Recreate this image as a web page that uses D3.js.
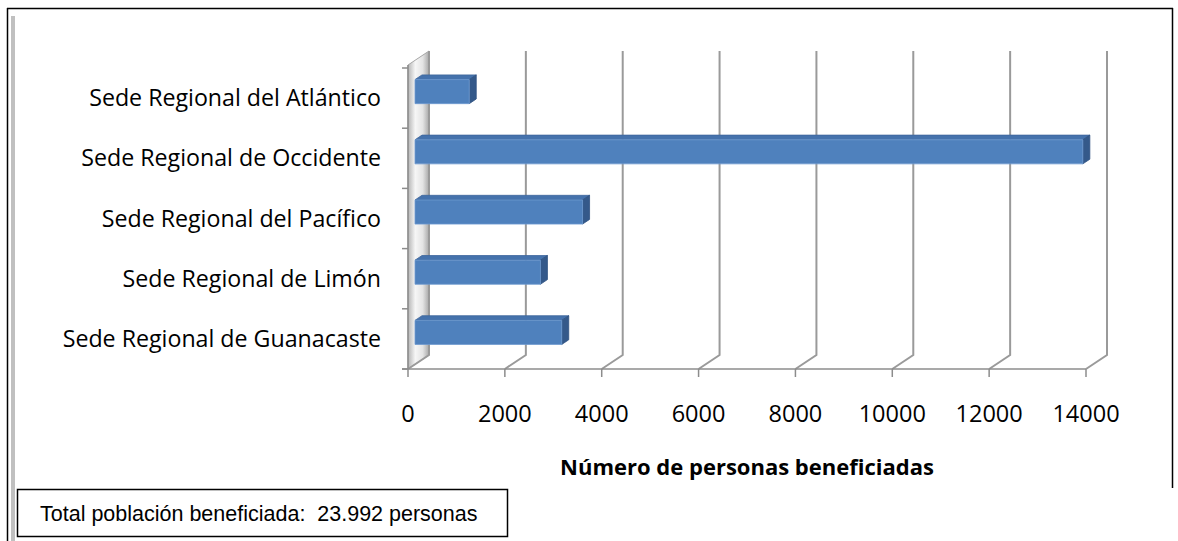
<!DOCTYPE html>
<html>
<head>
<meta charset="utf-8">
<script src="https://cdn.jsdelivr.net/npm/d3@7"></script>
<style>
  html, body { margin: 0; padding: 0; background: #fff; }
  svg { display: block; }
</style>
</head>
<body>
<svg id="chart" width="1178" height="541"></svg>
<script>
// ---- data ----
const categories = [
  "Sede Regional del Atlántico",
  "Sede Regional de Occidente",
  "Sede Regional del Pacífico",
  "Sede Regional de Limón",
  "Sede Regional de Guanacaste"
];
const values = [1120, 13790, 3460, 2590, 3030];
const tickValues = [0, 2000, 4000, 6000, 8000, 10000, 12000, 14000];
const axisTitle = "Número de personas beneficiadas";
const totalNote = "Total población beneficiada:  23.992 personas";

// ---- layout ----
const svg = d3.select("#chart");
const W = 1178, H = 541;
const DX = 21, DY = -14;          // depth vector of the 3D box
const plotTop = 65, plotBottom = 369;

const x = d3.scaleLinear().domain([0, 14000]).range([408, 1086]);
const y = d3.scaleBand().domain(categories).range([68, 369]);

const P = (xv, yv, d) => [xv + d * DX, yv + d * DY];

// outer frame
svg.append("line").attr("x1", 7).attr("x2", 1173).attr("y1", 8.5).attr("y2", 8.5)
  .attr("stroke", "#000").attr("stroke-width", 1.5);
svg.append("line").attr("x1", 7.5).attr("x2", 7.5).attr("y1", 8).attr("y2", H)
  .attr("stroke", "#000").attr("stroke-width", 1.5);
svg.append("line").attr("x1", 1172.5).attr("x2", 1172.5).attr("y1", 8).attr("y2", 488)
  .attr("stroke", "#000").attr("stroke-width", 1.5);
svg.append("rect").attr("x", 11).attr("y", 16).attr("width", 4).attr("height", H - 16)
  .attr("fill", "#c0c0c0");

// gradient for the side wall
const defs = svg.append("defs");
const g = defs.append("linearGradient").attr("id", "wallGrad")
  .attr("x1", "0").attr("x2", "1").attr("y1", "0").attr("y2", "0");
g.append("stop").attr("offset", "0%").attr("stop-color", "#b4b4b4");
g.append("stop").attr("offset", "35%").attr("stop-color", "#f6f6f6");
g.append("stop").attr("offset", "70%").attr("stop-color", "#e4e4e4");
g.append("stop").attr("offset", "100%").attr("stop-color", "#a8a8a8");

// left side wall (parallelogram)
const x0 = x(0);
const wallPts = [P(x0, plotTop, 0), P(x0, plotTop, 1), P(x0, plotBottom, 1), P(x0, plotBottom, 0)];
svg.append("polygon").attr("points", wallPts.map(p => p.join(",")).join(" "))
  .attr("fill", "url(#wallGrad)").attr("stroke", "#a6a6a6").attr("stroke-width", 1);

// gridlines on back wall + floor diagonals
const grid = svg.append("g").attr("fill", "none").attr("stroke", "#9a9a9a").attr("stroke-width", 2);
tickValues.forEach(t => {
  const a = P(x(t), plotTop, 1), b = P(x(t), plotBottom, 1), c = P(x(t), plotBottom, 0);
  grid.append("path").attr("d", `M${a[0]},${a[1]}L${b[0]},${b[1]}L${c[0]},${c[1]}`);
});

// front category axis and value axis lines
svg.append("line").attr("x1", x0).attr("x2", x0).attr("y1", plotTop).attr("y2", plotBottom)
  .attr("stroke", "#8c8c8c").attr("stroke-width", 1.5);
svg.append("line").attr("x1", x0 - 6).attr("x2", x(14000)).attr("y1", plotBottom).attr("y2", plotBottom)
  .attr("stroke", "#8c8c8c").attr("stroke-width", 1.5);

// category ticks
const catBounds = categories.map(c => y(c)).concat([y.range()[1]]);
svg.append("g").selectAll("line").data(catBounds).join("line")
  .attr("x1", x0 - 6).attr("x2", x0).attr("y1", d => d).attr("y2", d => d)
  .attr("stroke", "#8c8c8c").attr("stroke-width", 1.5);

// value ticks
svg.append("g").selectAll("line").data(tickValues).join("line")
  .attr("x1", d => x(d)).attr("x2", d => x(d)).attr("y1", plotBottom).attr("y2", plotBottom + 8)
  .attr("stroke", "#8c8c8c").attr("stroke-width", 1.5);

// bars (3D boxes)
const dFront = 1 / 3, dBack = 2 / 3;
const bw = y.bandwidth();
const barsG = svg.append("g");
categories.forEach((c, i) => {
  const top = y(c) + bw * 0.27, bot = top + bw * 0.40;
  const xs = x(0), xe = x(values[i]);
  const f = [P(xs, top, dFront), P(xe, top, dFront), P(xe, bot, dFront), P(xs, bot, dFront)];
  const topFace = [P(xs, top, dFront), P(xs, top, dBack), P(xe, top, dBack), P(xe, top, dFront)];
  const side = [P(xe, top, dFront), P(xe, top, dBack), P(xe, bot, dBack), P(xe, bot, dFront)];
  const pts = a => a.map(p => p.join(",")).join(" ");
  barsG.append("polygon").attr("points", pts(topFace)).attr("fill", "#4572AC").attr("stroke", "#3d669c").attr("stroke-width", 0.8);
  barsG.append("polygon").attr("points", pts(side)).attr("fill", "#34598a").attr("stroke", "#2f5281").attr("stroke-width", 0.8);
  barsG.append("polygon").attr("points", pts(f)).attr("fill", "#4F81BD").attr("stroke", "#6f9ad0").attr("stroke-width", 0.8);
});

// category labels
svg.append("g").selectAll("text").data(categories).join("text")
  .attr("x", 381).attr("y", d => y(d) + bw / 2 + 8)
  .attr("text-anchor", "end")
  .attr("font-family", "'Open Sans', sans-serif").attr("font-size", 23.2)
  .attr("fill", "#000").text(d => d);

// value tick labels
svg.append("g").selectAll("text").data(tickValues).join("text")
  .attr("x", d => x(d)).attr("y", 422)
  .attr("text-anchor", "middle")
  .attr("font-family", "'Open Sans', sans-serif").attr("font-size", 23.5)
  .attr("fill", "#000").text(d => d);

// axis title
svg.append("text").attr("x", 747).attr("y", 475).attr("text-anchor", "middle")
  .attr("font-family", "'Open Sans', sans-serif").attr("font-size", 22).attr("font-weight", "bold")
  .attr("fill", "#000").text(axisTitle);

// total note box
svg.append("rect").attr("x", 17.5).attr("y", 489.5).attr("width", 490).attr("height", 47)
  .attr("fill", "#fff").attr("stroke", "#000").attr("stroke-width", 1.5);
svg.append("text").attr("x", 40).attr("y", 521)
  .attr("xml:space", "preserve").style("white-space", "pre")
  .attr("font-family", "'Liberation Sans', Arial, sans-serif").attr("font-size", 21.5)
  .attr("fill", "#000").text(totalNote);
</script>
</body>
</html>
